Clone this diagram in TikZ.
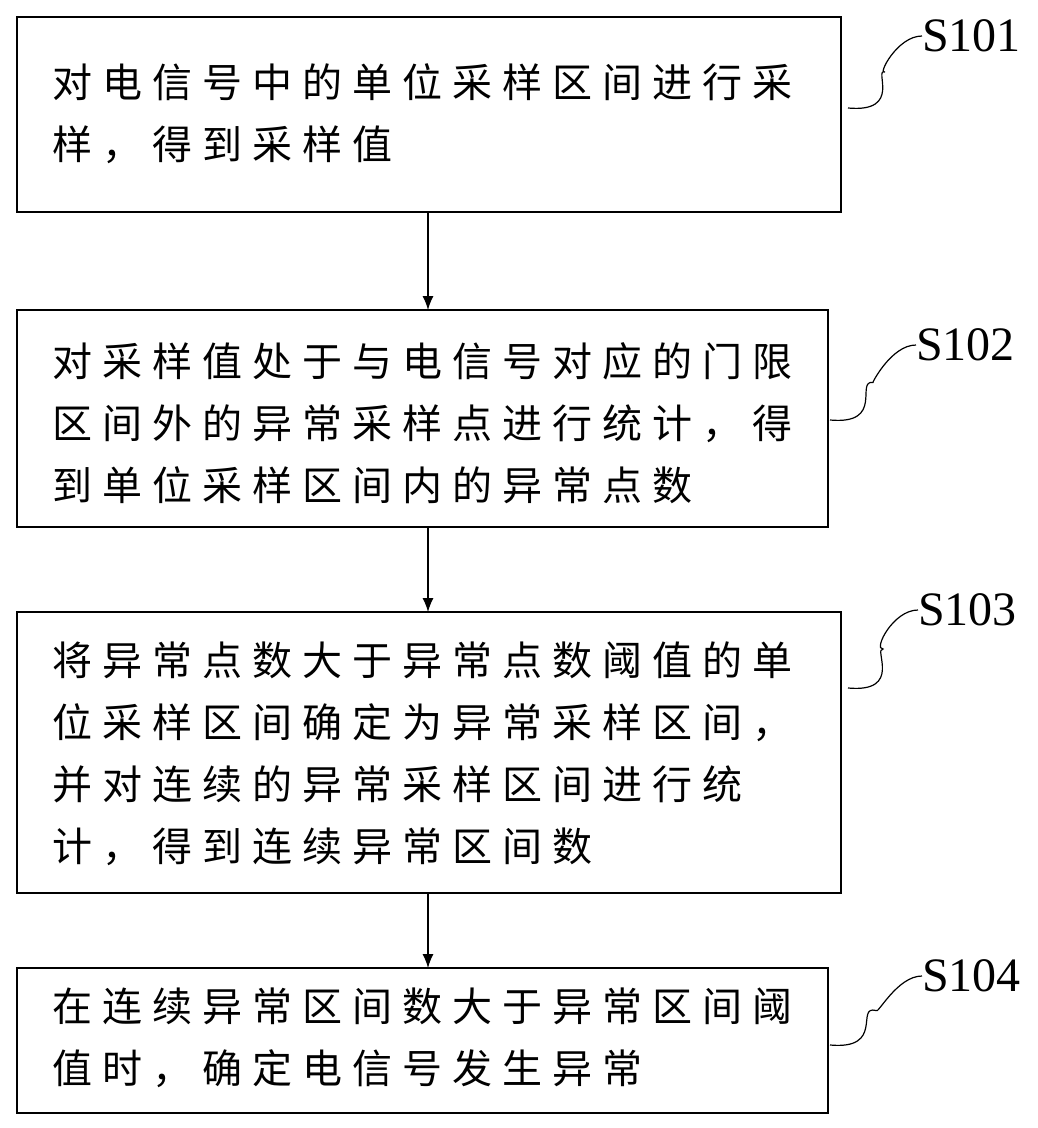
\documentclass[tikz,border=0pt]{standalone}
\usetikzlibrary{arrows.meta,calc}
\usepackage{fontspec}
\setmainfont{Liberation Serif}
\newfontfamily\cjk[LetterSpace=25]{Noto Sans CJK SC}
\begin{document}
\begin{tikzpicture}[x=1pt,y=-1pt,
  box/.style={draw,line width=1.8pt},
  txt/.style={anchor=north west,align=left,font=\cjk\fontsize{40}{62}\selectfont,inner sep=0},
  lab/.style={anchor=west,font=\fontsize{48}{48}\selectfont,inner sep=0},
  arr/.style={-{Latex[length=14pt,width=11pt]},line width=1.2pt},
  sq/.style={line width=1.2pt}]
\useasboundingbox (0,0) rectangle (1037,1128);
\draw[box] (17,17) rectangle (841,212);
\node[txt] (t1) at (52,63) {对电信号中的单位采样区间进行采\\样，得到采样值};
\draw[box] (17,310) rectangle (828,527);
\node[txt] (t2) at (52,342) {对采样值处于与电信号对应的门限\\区间外的异常采样点进行统计，得\\到单位采样区间内的异常点数};
\draw[box] (17,612) rectangle (841,893);
\node[txt] (t3) at (52,642) {将异常点数大于异常点数阈值的单\\位采样区间确定为异常采样区间，\\并对连续的异常采样区间进行统\\计，得到连续异常区间数};
\draw[box] (17,968) rectangle (828,1113);
\node[txt] (t4) at (52,988) {在连续异常区间数大于异常区间阈\\值时，确定电信号发生异常};
\coordinate (b1) at (428,212); \coordinate (c2) at (428,310);
\coordinate (b2) at (428,527); \coordinate (c3) at (428,612);
\coordinate (b3) at (428,893); \coordinate (c4) at (428,968);
\draw[arr] (b1) -- (c2);
\draw[arr] (b2) -- (c3);
\draw[arr] (b3) -- (c4);
\node[lab] (s1) at (922,36) {S101};
\node[lab] (s2) at (916,345) {S102};
\node[lab] (s3) at (918,610) {S103};
\node[lab] (s4) at (922,976) {S104};
\coordinate (e1) at (848,108); \coordinate (e2) at (830,420);
\coordinate (e3) at (848,688); \coordinate (e4) at (830,1045);
\foreach \e/\s in {e1/s1,e2/s2,e3/s3,e4/s4}{
  \draw[sq] (\e) .. controls ($(\e)+(55,5)$) and ($(\e)+(25,-40)$) .. ($(\e)!0.5!(\s.west)$)
    .. controls ($(\s.west)+(-45,40)$) and ($(\s.west)+(-25,0)$) .. (\s.west);}
\end{tikzpicture}
\end{document}
